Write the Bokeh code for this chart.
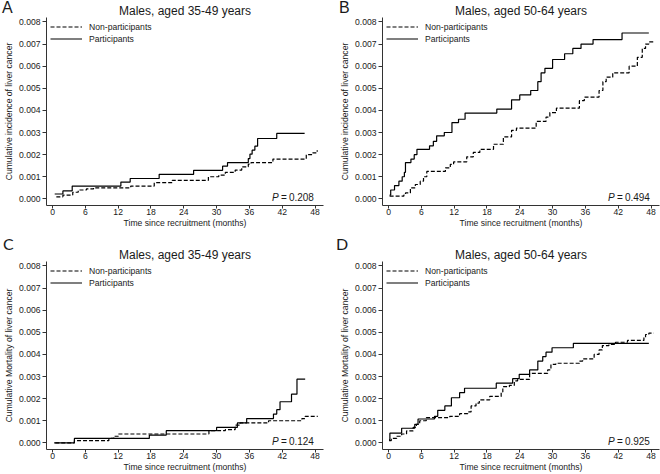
from bokeh.plotting import figure
from bokeh.layouts import gridplot, column
from bokeh.models import Range1d, FixedTicker, NumeralTickFormatter, Label, Legend, LegendItem, Div
from bokeh.embed import file_html
from bokeh.resources import INLINE

# ---------------- data ----------------
x_ticks = [0, 6, 12, 18, 24, 30, 36, 42, 48]
y_ticks = [0.000, 0.001, 0.002, 0.003, 0.004, 0.005, 0.006, 0.007, 0.008]

# Panel A: incidence, males 35-49
a_non_t = [0.7, 1.9, 3.7, 4.7, 6.2, 7.5, 14.3, 18.6, 21.9, 28.5, 30.4, 31.6, 33.4, 34.6, 35.8, 36.3, 40.3, 46.4, 47.6, 48.4]
a_non_v = [0.00009, 0.00017, 0.0003, 0.0004, 0.00045, 0.0005, 0.00058, 0.00073, 0.00084, 0.001, 0.00107, 0.0012, 0.0013, 0.00145, 0.00157, 0.00164, 0.0018, 0.002, 0.00208, 0.0022]
a_par_t = [0.4, 1.9, 3.6, 12.5, 14.2, 19.5, 25.8, 31.1, 32.0, 35.8, 36.1, 36.5, 37.0, 37.5, 41.0, 46.1]
a_par_v = [0.00022, 0.00036, 0.00058, 0.00076, 0.00092, 0.00111, 0.00129, 0.00148, 0.00164, 0.00182, 0.00202, 0.0022, 0.00238, 0.00273, 0.00296, 0.00296]

# Panel B: incidence, males 50-64
b_non_t = [0.2, 2.8, 3.1, 4.0, 4.9, 5.8, 6.4, 7.0, 10.4, 11.3, 11.9, 14.3, 15.5, 16.7, 19.2, 21.0, 22.5, 23.4, 27.0, 28.8, 29.5, 30.7, 34.9, 35.8, 38.5, 39.2, 39.8, 41.0, 44.0, 45.5, 46.4, 47.0, 47.6, 48.5]
b_non_v = [0.00012, 0.00017, 0.00027, 0.0005, 0.00065, 0.0008, 0.001, 0.00124, 0.0014, 0.00156, 0.00167, 0.0019, 0.0021, 0.00224, 0.00247, 0.0028, 0.0031, 0.0032, 0.0035, 0.0037, 0.0039, 0.0041, 0.00444, 0.0046, 0.0049, 0.0053, 0.0055, 0.0057, 0.006, 0.0064, 0.0068, 0.007, 0.0071, 0.0071]
b_par_t = [0.2, 0.4, 1.1, 1.9, 2.5, 2.9, 3.1, 4.1, 4.7, 5.2, 7.5, 8.2, 8.8, 10.2, 11.6, 12.8, 14.0, 19.8, 22.5, 24.0, 26.0, 27.3, 27.9, 28.6, 30.0, 32.2, 33.7, 35.2, 37.4, 42.7, 47.6]
b_par_v = [0.00017, 0.0004, 0.0006, 0.0008, 0.001, 0.0012, 0.00164, 0.0018, 0.002, 0.00224, 0.0024, 0.0026, 0.00285, 0.003, 0.00345, 0.0036, 0.00388, 0.00406, 0.00448, 0.0047, 0.0049, 0.0053, 0.0057, 0.0059, 0.0063, 0.00656, 0.0068, 0.007, 0.0072, 0.0075, 0.0075]

# Panel C: mortality, males 35-49
c_non_t = [0.5, 4.0, 10.3, 11.2, 12.1, 28.6, 31.6, 33.4, 34.3, 39.5, 45.6, 46.2, 48.5]
c_non_v = [0.0, 0.0001, 0.0002, 0.0003, 0.0004, 0.00055, 0.0006, 0.0008, 0.0009, 0.001, 0.0011, 0.0012, 0.0012]
c_par_t = [0.3, 4.0, 17.7, 20.8, 30.0, 33.8, 35.5, 40.4, 41.0, 41.6, 43.7, 44.7, 46.2]
c_par_v = [0.0, 0.0002, 0.00035, 0.00055, 0.0007, 0.0009, 0.0011, 0.0013, 0.0015, 0.00186, 0.0022, 0.00288, 0.00288]

# Panel D: mortality, males 50-64
d_non_t = [0.1, 0.5, 1.5, 2.4, 3.3, 4.5, 5.1, 5.7, 6.9, 11.2, 13.0, 14.5, 15.1, 16.0, 16.6, 18.5, 20.6, 20.9, 22.1, 23.0, 23.6, 25.8, 29.1, 29.7, 30.6, 34.9, 35.5, 37.6, 38.5, 39.1, 40.3, 41.5, 43.7, 46.7, 47.0, 47.6, 48.5]
d_non_v = [0.0001, 0.0002, 0.0003, 0.0004, 0.00054, 0.0007, 0.00084, 0.001, 0.00114, 0.0012, 0.00132, 0.0014, 0.00167, 0.0018, 0.00194, 0.0021, 0.0023, 0.00254, 0.0026, 0.0028, 0.00287, 0.00314, 0.0033, 0.00355, 0.0036, 0.0037, 0.0038, 0.004, 0.0042, 0.0044, 0.00445, 0.00455, 0.00463, 0.00475, 0.0049, 0.00496, 0.00496]
d_par_t = [0.1, 0.25, 2.4, 4.8, 5.4, 8.4, 9.0, 10.3, 11.5, 13.0, 13.9, 19.7, 22.7, 23.9, 25.8, 27.3, 28.2, 28.8, 29.9, 33.8, 47.6]
d_par_v = [0.00015, 0.00044, 0.00066, 0.00084, 0.00108, 0.0012, 0.00147, 0.00167, 0.00204, 0.00227, 0.00247, 0.0027, 0.0029, 0.0031, 0.0033, 0.0037, 0.0039, 0.0041, 0.0043, 0.0045, 0.0045]

titles = ["Males, aged 35-49 years", "Males, aged 50-64 years", "Males, aged 35-49 years", "Males, aged 50-64 years"]
letters = ["A", "B", "C", "D"]
y_labels = ["Cumulative incidence of liver cancer", "Cumulative incidence of liver cancer",
            "Cumulative Mortality of liver cancer", "Cumulative Mortality of liver cancer"]
p_numbers = ["0.208", "0.494", "0.124", "0.925"]
legend_labels = ["Non-participants", "Participants"]
x_label = "Time since recruitment (months)"

FONT = "Liberation Sans"
AXC = "#333333"
TXT = "#1a1a1a"
X0, X1 = -1.1, 49.55
Y0, Y1 = -0.0003, 0.0082


def make_panel(i, non_t, non_v, par_t, par_v, width, height, bl, br, bt, bb):
    p = figure(width=width, height=height, x_range=Range1d(X0, X1), y_range=Range1d(Y0, Y1),
               output_backend="svg", toolbar_location=None,
               min_border_left=bl, min_border_right=br, min_border_top=bt, min_border_bottom=bb)
    p.grid.visible = False
    p.outline_line_color = None
    p.background_fill_color = "white"
    p.border_fill_color = "white"

    r_non = p.step(non_t, non_v, mode="after", line_color="black", line_width=1.2, line_dash="4 2")
    r_par = p.step(par_t, par_v, mode="after", line_color="black", line_width=1.2)

    p.xaxis.ticker = FixedTicker(ticks=x_ticks)
    p.yaxis.ticker = FixedTicker(ticks=y_ticks)
    p.yaxis.formatter = NumeralTickFormatter(format="0.000")
    p.xaxis.axis_label = x_label
    p.yaxis.axis_label = y_labels[i]
    for ax in (p.xaxis[0], p.yaxis[0]):
        ax.axis_line_color = AXC
        ax.major_tick_line_color = AXC
        ax.minor_tick_line_color = None
        ax.major_tick_in = 0
        ax.major_label_text_font = FONT
        ax.major_label_text_font_size = "8.6px"
        ax.major_label_text_color = TXT
        ax.axis_label_text_font = FONT
        ax.axis_label_text_font_size = "8.6px"
        ax.axis_label_text_font_style = "normal"
        ax.axis_label_text_color = TXT
    p.xaxis.major_tick_out = 3
    p.yaxis.major_tick_out = 4
    p.xaxis.major_label_standoff = 0
    p.xaxis.axis_label_standoff = 0
    p.yaxis.major_label_standoff = 2
    p.yaxis.axis_label_standoff = 2

    legend = Legend(items=[LegendItem(label=legend_labels[0], renderers=[r_non]),
                           LegendItem(label=legend_labels[1], renderers=[r_par])],
                    location="top_left", margin=4, padding=0, spacing=1,
                    glyph_width=32, glyph_height=11, label_height=11, label_standoff=7,
                    label_text_font=FONT, label_text_font_size="8.6px", label_text_color=TXT,
                    border_line_color=None, background_fill_alpha=0)
    p.add_layout(legend)

    # panel title, in the (unclipped) "above" panel, anchored on the frame's top edge
    p.add_layout(Label(x=(X0 + X1) / 2, y=Y1, y_offset=6.2, text=titles[i],
                       text_align="center", text_baseline="alphabetic", text_font=FONT,
                       text_font_size="12px", text_color=TXT), "above")

    # P value: italic P, "=", number
    common = dict(x=47.8, y=0.00008, text_baseline="alphabetic", text_font=FONT,
                  text_font_size="10px", text_color=TXT)
    p.add_layout(Label(text=p_numbers[i], text_align="right", **common))
    p.add_layout(Label(text="=", text_align="left", x_offset=-33, **common))
    p.add_layout(Label(text="P", text_align="left", x_offset=-42, text_font_style="italic", **common))
    return p


pa = make_panel(0, a_non_t, a_non_v, a_par_t, a_par_v, 336, 237, 43, 13, 17, 32)
pb = make_panel(1, b_non_t, b_non_v, b_par_t, b_par_v, 324, 237, 46, 1, 17, 32)
pc = make_panel(2, c_non_t, c_non_v, c_par_t, c_par_v, 336, 237, 43, 13, 24, 25)
pd = make_panel(3, d_non_t, d_non_v, d_par_t, d_par_v, 324, 237, 44, 1, 24, 25)

grid = gridplot([[pa, pb], [pc, pd]], toolbar_location=None)

# panel letters, overlaid on the top-left corner of each panel
letter_pos = [(2, 0, FONT), (339, 0, FONT), (3, 236, "Lato"), (336, 236, "Lato")]
spans = "".join(
    '<span style="position:absolute;left:%dpx;top:%dpx;font-family:\'%s\';font-size:16px;'
    'line-height:16px;color:%s;">%s</span>' % (lx, ly, lf, TXT, letters[k])
    for k, (lx, ly, lf) in enumerate(letter_pos)
)
overlay = Div(text='<div style="position:relative;width:660px;height:474px;">' + spans + '</div>',
              width=660, height=474, margin=(-474, 0, 0, 0),
              styles={"position": "relative", "z-index": "10", "pointer-events": "none"})

page = column(grid, overlay)

open("out.html", "w").write(file_html(page, INLINE))
